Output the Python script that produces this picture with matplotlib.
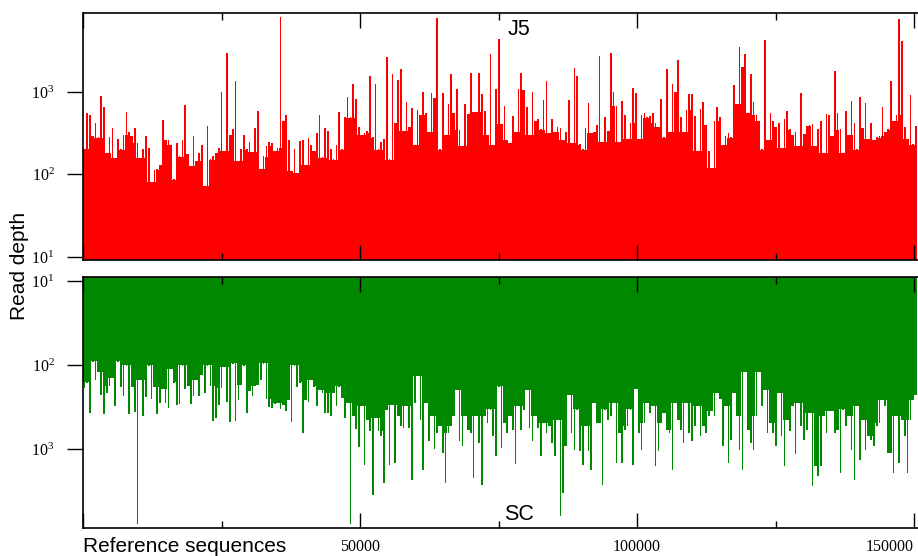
import numpy as np
import matplotlib
matplotlib.use('Agg')
import matplotlib.pyplot as plt
from matplotlib.ticker import FixedLocator, NullLocator, FixedFormatter

# read depth per window along the reference (window = bin_bp bases)
bin_bp = 505.4

j5_depth = [
    205, 556, 520, 290, 420, 280, 900, 650, 182, 280,
    370, 158, 265, 200, 300, 565, 330, 290, 365, 240,
    158, 200, 295, 210, 80, 112, 115, 130, 460, 260,
    260, 228, 86, 240, 165, 260, 690, 175, 126, 292,
    145, 182, 228, 72, 390, 151, 165, 180, 210, 990,
    190, 3000, 300, 350, 1350, 145, 200, 300, 200, 245,
    185, 365, 590, 115, 165, 219, 250, 240, 190, 210,
    8100, 440, 530, 260, 110, 200, 104, 255, 260, 130,
    275, 228, 190, 318, 520, 160, 365, 335, 200, 151,
    228, 575, 200, 500, 880, 490, 1250, 830, 380, 300,
    318, 340, 1540, 280, 1250, 200, 250, 265, 2650, 151,
    1650, 420, 1400, 1900, 335, 760, 380, 640, 228, 600,
    530, 1000, 556, 330, 980, 840, 7900, 200, 970, 300,
    720, 1650, 556, 1100, 345, 219, 720, 540, 1720, 565,
    575, 1720, 950, 590, 300, 2900, 228, 1100, 4380, 410,
    670, 260, 240, 510, 330, 1100, 1720, 1050, 650, 300,
    1000, 440, 470, 350, 800, 1350, 320, 470, 330, 380,
    360, 260, 330, 790, 240, 1950, 1540, 230, 200, 360,
    740, 320, 330, 400, 2700, 250, 490, 340, 2970, 990,
    680, 250, 780, 530, 270, 420, 1130, 970, 270, 530,
    556, 490, 510, 560, 420, 380, 810, 280, 1900, 330,
    1250, 990, 2460, 490, 330, 600, 940, 940, 510, 190,
    620, 750, 400, 190, 120, 440, 650, 490, 225, 290,
    320, 280, 1230, 720, 3510, 2010, 2900, 556, 1630, 760,
    530, 440, 200, 4240, 260, 556, 440, 380, 420, 210,
    470, 590, 350, 300, 330, 219, 970, 310, 390, 400,
    410, 219, 350, 440, 182, 540, 520, 290, 1780, 556,
    350, 182, 590, 300, 780, 420, 200, 860, 370, 740,
    270, 420, 260, 280, 290, 660, 330, 350, 1340, 440,
    530, 7600, 4100, 380, 270, 930, 230, 390,
]

sc_depth = [
    185, 160, 369, 90, 150, 120, 225, 380, 215, 175,
    140, 307, 90, 180, 230, 100, 380, 180, 355, 7800,
    150, 400, 240, 100, 250, 180, 380, 280, 190, 280,
    320, 110, 160, 300, 290, 100, 190, 175, 290, 230,
    150, 230, 130, 210, 100, 175, 455, 420, 300, 185,
    105, 270, 470, 95, 465, 260, 170, 100, 369, 200,
    230, 175, 170, 150, 95, 250, 310, 320, 290, 280,
    330, 300, 350, 260, 470, 100, 180, 160, 640, 260,
    275, 150, 178, 307, 195, 213, 369, 369, 404, 213,
    307, 178, 245, 420, 280, 7800, 404, 580, 950, 307,
    1520, 443, 600, 3480, 420, 600, 700, 2530, 340, 1520,
    300, 1450, 404, 532, 557, 307, 557, 2300, 280, 135,
    443, 1750, 280, 803, 404, 980, 638, 532, 1105, 2530,
    638, 532, 404, 195, 803, 921, 404, 583, 640, 2200,
    404, 840, 2650, 404, 485, 336, 700, 1210, 178, 965,
    485, 638, 404, 583, 1500, 307, 583, 336, 195, 557,
    803, 404, 557, 1210, 485, 638, 532, 840, 1210, 443,
    6250, 3330, 921, 223, 638, 1010, 336, 1055, 1520, 532,
    1055, 1750, 280, 485, 485, 2650, 336, 443, 404, 280,
    1450, 638, 1455, 583, 532, 336, 1520, 190, 638, 1010,
    485, 280, 369, 307, 1600, 1055, 485, 369, 583, 638,
    1750, 280, 443, 583, 840, 280, 638, 803, 532, 307,
    700, 532, 638, 404, 352, 404, 213, 250, 921, 307,
    1455, 767, 213, 404, 1010, 1750, 120, 583, 840, 1010,
    404, 120, 307, 195, 638, 485, 638, 921, 213, 700,
    1600, 443, 610, 307, 1150, 280, 532, 767, 583, 369,
    2760, 1600, 2100, 1600, 404, 638, 352, 352, 638, 583,
    1910, 336, 532, 404, 1010, 2300, 307, 1327, 443, 1010,
    700, 767, 921, 532, 485, 256, 307, 1105, 1105, 1910,
    404, 1455, 443, 700, 1910, 443, 256, 223,
]

x_major = [0, 50000, 100000, 150000]
x_minor = [25000, 75000, 125000]
x_labels = ['', '50000', '100000', '150000']
y_ticks = [10, 100, 1000]
y_labels = [r'$\mathregular{10^{1}}$', r'$\mathregular{10^{2}}$', r'$\mathregular{10^{3}}$']

serif = 'Liberation Serif'
sans = 'Liberation Sans'


def draw_depth(ax, depth, color):
    # solid body up to the lowest neighbour, thin spikes for each window
    d = np.asarray(depth, dtype=float)
    padded = np.concatenate([[d[0]], d, [d[-1]]])
    body = np.minimum(np.minimum(padded[:-2], padded[1:-1]), padded[2:])
    edges = np.arange(len(d) + 1) * bin_bp
    ax.stairs(body, edges, baseline=1, fill=True, color=color, lw=0)
    centers = (np.arange(len(d)) + 0.5) * bin_bp
    ax.bar(centers, d, width=bin_bp * 0.62, bottom=1, color=color, lw=0)


def style_axis(ax, show_xlabels):
    ax.set_yscale('log')
    ax.set_xlim(0, 150722)
    ax.spines['right'].set_visible(False)
    for s in ['top', 'bottom', 'left']:
        ax.spines[s].set_linewidth(1.2)
    ax.xaxis.set_major_locator(FixedLocator(x_major))
    ax.xaxis.set_minor_locator(FixedLocator(x_minor))
    ax.tick_params(axis='x', which='major', direction='in', length=11, width=1,
                   top=True, bottom=True, pad=8)
    ax.tick_params(axis='x', which='minor', direction='in', length=5, width=1,
                   top=True, bottom=True)
    if show_xlabels:
        ax.xaxis.set_major_formatter(FixedFormatter(x_labels))
        for lbl in ax.get_xticklabels():
            lbl.set_fontfamily(serif)
            lbl.set_fontsize(11.5)
        ax.get_xticklabels()[-1].set_horizontalalignment('right')
        ax.get_xticklabels()[-2].set_horizontalalignment('center')
    else:
        ax.set_xticklabels([])
    ax.yaxis.set_major_locator(FixedLocator(y_ticks))
    ax.yaxis.set_minor_locator(NullLocator())
    ax.yaxis.set_major_formatter(FixedFormatter(y_labels))
    ax.tick_params(axis='y', which='major', direction='out', length=11.5, width=1,
                   left=True, right=False, pad=9)
    for lbl in ax.get_yticklabels():
        lbl.set_fontfamily(serif)
        lbl.set_fontsize(11.5)


fig = plt.figure(figsize=(9.18, 5.56), dpi=100)
left = 83 / 918
ax1 = fig.add_axes([left, 1 - 260 / 556, 1 - left, 247 / 556])
ax2 = fig.add_axes([left, 1 - 528 / 556, 1 - left, 251 / 556])

draw_depth(ax1, j5_depth, '#ff0000')
style_axis(ax1, False)
ax1.set_ylim(9.2, 9060)

draw_depth(ax2, sc_depth, '#008800')
style_axis(ax2, True)
ax2.set_ylim(8650, 8.9)

ax1.text(0.522, 0.935, 'J5', transform=ax1.transAxes, ha='center', va='center',
         fontsize=15.5, family=sans)
ax2.text(0.522, 0.055, 'SC', transform=ax2.transAxes, ha='center', va='center',
         fontsize=15.5, family=sans)

fig.text(20 / 918, 1 - 266 / 556, 'Read depth', rotation=90, ha='center', va='center',
         fontsize=15, family=sans)
fig.text(left, 1 - 546 / 556, 'Reference sequences', ha='left', va='center',
         fontsize=15, family=sans)

fig.savefig('out.png', dpi=100)
